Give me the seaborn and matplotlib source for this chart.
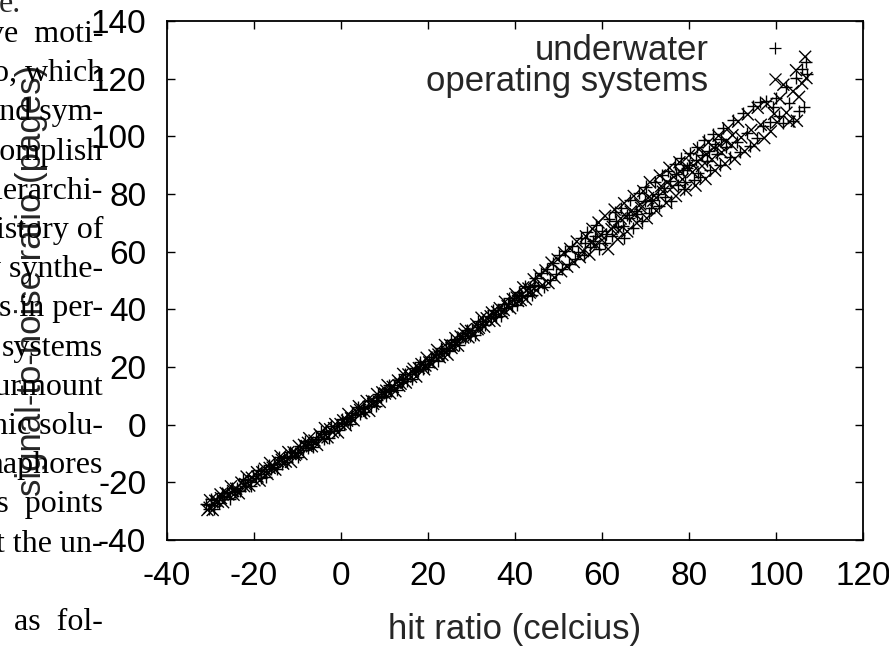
import pandas as pd
import seaborn as sns
import matplotlib.pyplot as plt
from matplotlib.lines import Line2D

# --- data ---
under_x = [-31.0, -30.4, -29.8, -29.2, -28.6, -28.0, -27.4, -26.8, -26.2, -25.6,
           -25.0, -24.4, -23.8, -23.2, -22.6, -22.0, -21.4, -20.8, -20.2, -19.6,
           -19.0, -18.4, -17.8, -17.2, -16.6, -16.0, -15.4, -14.8, -14.2, -13.6,
           -13.0, -12.4, -11.8, -11.2, -10.6, -10.0, -9.4, -8.8, -8.2, -7.6,
           -7.0, -6.4, -5.8, -5.2, -4.6, -4.0, -3.4, -2.8, -2.2, -1.6,
           -1.0, -0.4, 0.2, 0.8, 1.4, 2.0, 2.6, 3.2, 3.8, 4.4,
           5.0, 5.6, 6.2, 6.8, 7.4, 8.0, 8.6, 9.2, 9.8, 10.4,
           11.0, 11.6, 12.2, 12.8, 13.4, 14.0, 14.6, 15.2, 15.8, 16.4,
           17.0, 17.6, 18.2, 18.8, 19.4, 20.0, 20.6, 21.2, 21.8, 22.4,
           23.0, 23.6, 24.2, 24.8, 25.4, 26.0, 26.6, 27.2, 27.8, 28.4,
           29.0, 29.6, 30.2, 30.8, 31.4, 32.0, 32.6, 33.2, 33.8, 34.4,
           35.0, 35.6, 36.2, 36.8, 37.4, 38.0, 38.6, 39.2, 39.8, 40.4,
           41.0, 41.6, 42.2, 42.8, 43.4, 44.0, 44.6, 45.2,
           46.0, 46.7, 47.3, 48.1, 48.8, 49.5, 50.2, 50.9, 51.5, 52.3,
           53.0, 53.8, 54.4, 55.1, 55.9, 56.6, 57.2, 58.0, 58.7, 59.3,
           60.1, 60.8, 61.6, 62.3, 63.0, 63.6, 64.4, 65.0, 65.7, 66.5,
           67.1, 67.9, 68.6, 69.2, 70.0, 70.8, 71.5, 72.2, 73.0, 73.7,
           74.5, 75.2, 75.9, 76.7, 77.4, 78.1, 78.9, 79.6, 80.3, 81.1,
           81.8, 82.6, 83.4, 84.1, 84.9, 85.6, 86.4, 87.1, 87.9, 88.6,
           89.4, 90.2, 91.0, 91.7, 92.5, 93.3, 94.0, 94.8, 95.6, 96.3,
           97.1, 97.8, 98.6, 99.4, 100.1, 100.8, 101.6, 102.3, 103.0, 103.8,
           104.5, 105.2, 105.9, 106.5, 106.9, 107.1]
under_y = [-27.6, -29.1, -25.7, -29.1, -26.3, -27.2, -23.8, -25.1, -23.5, -25.9,
           -21.9, -23.3, -22.0, -23.1, -18.8, -21.4, -19.3, -21.1, -17.7, -18.5,
           -15.8, -18.4, -16.2, -18.0, -13.9, -15.4, -13.5, -15.4, -11.1, -13.6,
           -11.4, -12.9, -9.4, -10.8, -9.7, -11.2, -7.4, -8.9, -5.8, -8.2,
           -6.0, -7.7, -4.4, -4.9, -2.3, -5.0, -2.6, -4.6, -0.6, -2.3,
           -0.6, -1.9, 2.1, 0.3, 2.4, 0.4, 4.0, 3.3, 6.2, 3.6,
           5.8, 4.4, 8.3, 6.4, 8.1, 6.5, 10.8, 9.5, 11.4, 9.8,
           13.9, 11.8, 13.7, 11.9, 15.6, 14.9, 17.5, 15.1, 17.7, 16.0,
           19.7, 18.5, 21.9, 19.3, 21.2, 20.0, 23.6, 22.6, 24.4, 22.2,
           26.6, 24.7, 26.5, 25.6, 29.4, 28.0, 29.7, 27.6, 30.7, 30.1,
           32.9, 30.6, 32.9, 31.2, 36.0, 33.7, 35.8, 34.4, 37.8, 37.0,
           39.7, 37.3, 39.9, 37.8, 41.9, 40.5, 43.9, 41.0, 43.4, 41.4,
           45.9, 44.5, 48.0, 44.6, 47.8, 45.1, 50.9, 48.1,
           52.6, 47.9, 54.0, 50.2, 55.9, 52.4, 58.8, 54.1, 60.3, 55.7,
           62.1, 57.3, 59.8, 64.6, 58.9, 66.8, 61.5, 63.7, 69.4, 60.8,
           67.2, 62.9, 71.3, 65.4, 73.8, 68.7, 75.2, 64.9, 72.6, 77.9,
           68.3, 74.1, 80.2, 70.7, 82.6, 73.4, 78.0, 84.3, 75.9, 86.5,
           79.1, 88.0, 77.6, 90.4, 83.2, 92.6, 81.8, 88.9, 94.1, 84.7,
           96.3, 86.0, 98.8, 91.5, 88.3, 100.7, 93.9, 90.2, 103.0, 96.4,
           92.7, 105.6, 98.1, 94.4, 108.2, 101.3, 96.8, 110.5, 99.5, 111.9,
           103.7, 112.3, 104.8, 110.1, 113.4, 106.9, 104.6, 117.2, 111.5, 105.3,
           120.4, 108.7, 123.5, 110.3, 125.8, 121.6]
# more underwater points filling the thick band and the upper cloud
under_x2 = [-29.9, -27.0, -24.0, -21.0, -18.5, -15.5, -12.5, -9.8, -6.8, -3.9,
            -0.9, 2.4, 5.3, 8.3, 11.3, 14.3, 17.3, 20.3, 23.3, 26.3,
            29.3, 32.3, 35.3, 38.3, 41.3, 44.3,
            56.0, 58.3, 61.0, 63.2, 64.8, 66.2, 68.0, 69.8, 71.2, 72.8,
            74.3, 75.6, 77.1, 78.6, 80.0, 81.5, 83.0, 84.5, 86.0, 87.3,
            79.0, 82.0]
under_y2 = [-27.9, -24.6, -23.1, -19.8, -17.0, -14.6, -11.2, -9.4, -6.6, -3.3,
            -0.5, 2.8, 5.9, 8.7, 12.4, 15.8, 18.9, 22.2, 25.4, 28.6,
            31.9, 34.9, 38.3, 41.7, 44.9, 48.6,
            63.0, 65.5, 66.0, 70.5, 69.0, 71.8, 72.9, 77.5, 75.1, 80.0,
            82.1, 84.5, 86.9, 88.3, 90.1, 91.9, 93.4, 95.0, 97.3, 99.0,
            84.0, 87.2]

os_x = [-30.7, -30.1, -29.5, -28.9, -28.3, -27.7, -27.1, -26.5, -25.9, -25.3,
        -24.7, -24.1, -23.5, -22.9, -22.3, -21.7, -21.1, -20.5, -19.9, -19.3,
        -18.7, -18.1, -17.5, -16.9, -16.3, -15.7, -15.1, -14.5, -13.9, -13.3,
        -12.7, -12.1, -11.5, -10.9, -10.3, -9.7, -9.1, -8.5, -7.9, -7.3,
        -6.7, -6.1, -5.5, -4.9, -4.3, -3.7, -3.1, -2.5, -1.9, -1.3,
        -0.7, -0.1, 0.5, 1.1, 1.7, 2.3, 2.9, 3.5, 4.1, 4.7,
        5.3, 5.9, 6.5, 7.1, 7.7, 8.3, 8.9, 9.5, 10.1, 10.7,
        11.3, 11.9, 12.5, 13.1, 13.7, 14.3, 14.9, 15.5, 16.1, 16.7,
        17.3, 17.9, 18.5, 19.1, 19.7, 20.3, 20.9, 21.5, 22.1, 22.7,
        23.3, 23.9, 24.5, 25.1, 25.7, 26.3, 26.9, 27.5, 28.1, 28.7,
        29.3, 29.9, 30.5, 31.1, 31.7, 32.3, 32.9, 33.5, 34.1, 34.7,
        35.3, 35.9, 36.5, 37.1, 37.7, 38.3, 38.9, 39.5, 40.1, 40.7,
        41.3, 41.9, 42.5, 43.1, 43.7, 44.3, 44.9,
        45.6, 46.3, 47.0, 47.7, 48.4, 49.1, 49.8, 50.6, 51.3, 52.0,
        52.7, 53.5, 54.2, 54.9, 55.6, 56.3, 57.1, 57.8, 58.5, 59.2,
        60.0, 60.7, 61.4, 62.2, 62.9, 63.6, 64.3, 65.1, 65.8, 66.6,
        67.3, 68.0, 68.8, 69.5, 70.3, 71.0, 71.8, 72.5, 73.3, 74.0,
        74.8, 75.5, 76.3, 77.0, 77.8, 78.5, 79.3, 80.0, 80.8, 81.5,
        82.3, 83.0, 83.8, 84.5, 85.3, 86.0, 86.8, 87.5, 88.3, 89.0,
        89.8, 90.5, 91.3, 92.0, 92.8, 93.5, 94.3, 95.0, 95.8, 96.5,
        97.3, 98.0, 98.8, 99.6, 100.3, 100.9, 101.7, 102.4, 103.1, 103.9,
        104.6, 104.8, 105.3, 106.0, 106.7, 107.0]
os_y = [-29.6, -26.2, -29.6, -26.4, -26.7, -24.2, -26.9, -23.7, -24.2, -21.4,
        -24.3, -22.2, -23.8, -20.1, -21.3, -18.0, -21.1, -18.4, -19.3, -16.5,
        -19.4, -16.5, -15.3, -17.1, -13.3, -14.9, -15.6, -12.7, -10.9, -13.5,
        -12.8, -9.5, -12.9, -9.6, -10.0, -7.4, -10.2, -7.0, -7.4, -4.7,
        -7.5, -5.5, -7.0, -3.4, -4.6, -1.2, -4.4, -1.6, -2.6, 0.2,
        -2.7, 0.2, 1.5, -0.2, 3.7, 2.2, 1.5, 4.6, 6.4, 4.0,
        4.7, 8.2, 4.8, 8.2, 7.9, 10.6, 7.9, 11.2, 10.8, 13.7,
        10.9, 13.1, 11.6, 15.3, 14.2, 17.6, 14.6, 17.4, 16.6, 19.4,
        16.7, 19.6, 21.0, 19.2, 23.2, 21.6, 21.0, 24.0, 25.9, 23.4,
        24.2, 27.6, 24.3, 27.6, 27.4, 30.0, 27.4, 30.6, 30.2, 33.1,
        30.3, 32.5, 31.0, 34.8, 33.6, 37.1, 34.0, 36.9, 36.0, 38.9,
        36.1, 39.1, 40.4, 38.7, 42.6, 41.1, 40.4, 43.5, 45.3, 42.9,
        43.2, 47.6, 43.5, 47.2, 46.3, 50.4, 46.6,
        51.8, 48.4, 53.5, 49.1, 56.2, 51.0, 57.3, 53.2, 59.6, 54.8,
        61.0, 56.4, 63.5, 58.1, 60.2, 65.3, 59.0, 67.9, 62.4, 70.1,
        64.0, 72.4, 60.9, 67.8, 74.6, 64.3, 71.5, 76.8, 67.0, 73.9,
        79.3, 69.9, 76.4, 81.0, 71.6, 84.1, 77.7, 74.2, 86.4, 80.8,
        76.9, 89.1, 82.5, 79.3, 91.0, 85.1, 81.3, 93.4, 87.6, 82.9,
        95.5, 89.7, 85.2, 97.9, 92.0, 88.1, 100.2, 94.4, 90.5, 102.8,
        97.0, 92.1, 105.1, 99.6, 94.8, 107.6, 102.2, 96.9, 109.9, 104.0,
        99.4, 111.3, 101.7, 107.8, 104.9, 113.0, 117.9, 108.2, 105.1, 115.6,
        122.9, 105.4, 113.7, 118.4, 127.6, 120.2]
# more operating-systems points filling the band and the upper cloud
os_x2 = [-30.2, -27.6, -24.8, -22.0, -19.2, -16.4, -13.6, -10.6, -7.6, -4.6,
         -1.6, 1.4, 4.4, 7.4, 10.4, 13.4, 16.4, 19.4, 22.4, 25.4,
         28.4, 31.4, 34.4, 37.4, 40.4, 43.4,
         57.5, 59.7, 62.5, 64.0, 65.5, 67.7, 69.0, 70.6, 72.0, 73.6,
         75.0, 76.5, 78.0, 79.6, 81.0, 82.7, 84.0, 85.7, 87.0, 88.6, 90.0]
os_y2 = [-28.8, -25.5, -23.0, -20.6, -18.0, -15.0, -12.2, -10.5, -6.3, -4.0,
         -1.2, 1.4, 5.1, 7.2, 11.8, 13.5, 18.3, 20.5, 24.3, 26.6,
         31.5, 33.1, 37.6, 39.8, 44.1, 45.8,
         63.2, 65.9, 68.6, 67.4, 72.3, 73.0, 75.2, 78.6, 79.4, 82.7,
         84.0, 85.9, 87.8, 89.3, 89.9, 92.2, 93.8, 96.0, 96.9, 98.3, 100.4]

series = ["underwater", "operating systems"]
x_ticks = [-40, -20, 0, 20, 40, 60, 80, 100, 120]
y_ticks = [-40, -20, 0, 20, 40, 60, 80, 100, 120, 140]

# lines of the paper text that shows through on the left
page_lines = ["ve  moti-", "o, which", "and sym-", "complish", "hierarchi-",
              "history of", "y synthe-", "s in per-", "systems", "surmount",
              "nic solu-", "maphores", "ss  points", "t the un-", "", "as  fol-"]

df = pd.concat([
    pd.DataFrame({"x": under_x + under_x2, "y": under_y + under_y2, "kind": series[0]}),
    pd.DataFrame({"x": os_x + os_x2, "y": os_y + os_y2, "kind": series[1]}),
])

sns.set_style("ticks")
plt.rcParams["font.family"] = ["Liberation Sans", "DejaVu Sans"]
plt.rcParams["axes.unicode_minus"] = False

fig = plt.figure(figsize=(8.89, 6.46), dpi=100)

# background page text
fig.text(21 / 889, 1 - 12 / 646, "e.", ha="right", va="baseline",
         family="Liberation Serif", fontsize=23)
for i, line in enumerate(page_lines):
    base = 42 + i * 39.2
    fig.text(103 / 889, 1 - base / 646, line, ha="right", va="baseline",
             family="Liberation Serif", fontsize=23, color="black")

ax = fig.add_axes([167 / 889, 1 - 540 / 646, 696 / 889, 519 / 646])
ax.patch.set_alpha(0)

sns.scatterplot(data=df, x="x", y="y", hue="kind", style="kind",
                markers={series[0]: "+", series[1]: "x"},
                palette={series[0]: "black", series[1]: "black"},
                s=75, linewidth=1.0, legend=False, ax=ax)

ax.set_xlim(-40, 120)
ax.set_ylim(-40, 140)
ax.set_xticks(x_ticks)
ax.set_yticks(y_ticks)
ax.tick_params(direction="in", length=6, width=1, labelsize=24, pad=15,
               top=True, right=True, colors="black")
for sp in ax.spines.values():
    sp.set_visible(True)
    sp.set_linewidth(1.3)
    sp.set_color("black")

ax.set_xlabel("hit ratio (celcius)", fontsize=25, labelpad=15)
ax.set_ylabel("signal-to-noise ratio (pages)", fontsize=25)
ax.yaxis.set_label_coords(-0.171, 0.5)

handles = [Line2D([], [], ls="none", marker="+", color="black", markersize=8, mew=0.9),
           Line2D([], [], ls="none", marker="x", color="black", markersize=8, mew=0.9)]
ax.legend(handles, series, loc="upper right", bbox_to_anchor=(0.924, 0.975),
          frameon=False, markerfirst=False, fontsize=25, borderpad=0,
          borderaxespad=0, handletextpad=0.93, handlelength=2, labelspacing=-0.06)

fig.savefig("out.png", dpi=100)
